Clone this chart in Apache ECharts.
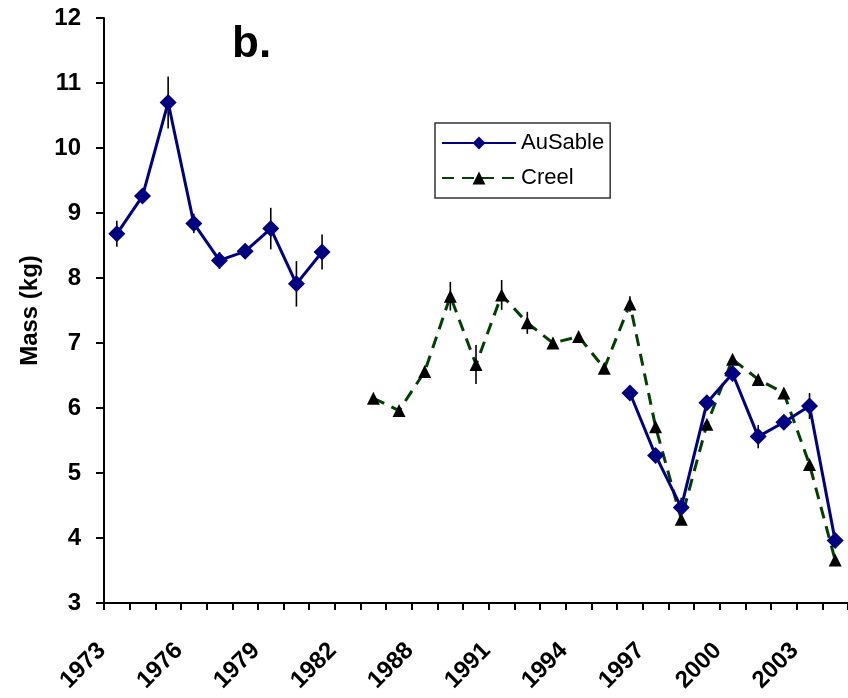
<!DOCTYPE html>
<html>
<head>
<meta charset="utf-8">
<script src="https://cdn.jsdelivr.net/npm/echarts@6/dist/echarts.min.js"></script>
<style>
html,body{margin:0;padding:0;background:#fff;}
#chart{width:848px;height:698px;}
</style>
</head>
<body>
<div id="chart"></div>
<script>
// Categories (years on the x axis)
var years = ['1973','1974','1975','1976','1977','1978','1979','1980','1981','1982',
             '1986','1987','1988','1989','1990','1991','1992','1993','1994','1995',
             '1996','1997','1998','1999','2000','2001','2002','2003','2004'];

// AuSable series (two runs of years)
var ausableYears = ['1973','1974','1975','1976','1977','1978','1979','1980','1981',
                    '1996','1997','1998','1999','2000','2001','2002','2003','2004'];
var ausableMass  = [8.68, 9.26, 10.70, 8.84, 8.27, 8.41, 8.76, 7.91, 8.40,
                    6.23, 5.27, 4.47, 6.08, 6.53, 5.56, 5.78, 6.03, 3.96];
var ausableErr   = [0.20, 0.10, 0.40, 0.15, 0.13, 0.10, 0.32, 0.35, 0.27,
                    0.10, 0.10, 0.15, 0.10, 0.10, 0.18, 0.10, 0.20, 0.10];

// Creel series
var creelYears = ['1986','1987','1988','1989','1990','1991','1992','1993','1994','1995',
                  '1996','1997','1998','1999','2000','2001','2002','2003','2004'];
var creelMass  = [6.15, 5.96, 6.56, 7.72, 6.67, 7.74, 7.31, 7.00, 7.10, 6.61,
                  7.60, 5.71, 4.29, 5.75, 6.75, 6.44, 6.23, 5.13, 3.66];
var creelErr   = [0.05, 0.05, 0.08, 0.22, 0.30, 0.23, 0.17, 0.08, 0.05, 0.05,
                  0.12, 0.05, 0.05, 0.05, 0.05, 0.05, 0.05, 0.05, 0.05];

// Y axis ticks
var yMin = 3, yMax = 12, yStep = 1;

function fullSeries(ys, vals) {
  var out = years.map(function(){ return null; });
  ys.forEach(function(y, i){ out[years.indexOf(y)] = vals[i]; });
  return out;
}
function errData(ys, vals, errs) {
  return ys.map(function(y, i){ return [years.indexOf(y), vals[i] - errs[i], vals[i] + errs[i]]; });
}
function renderErr(params, api) {
  var x = api.value(0);
  var lo = api.coord([x, api.value(1)]);
  var hi = api.coord([x, api.value(2)]);
  return {
    type: 'line',
    shape: {x1: lo[0], y1: lo[1], x2: hi[0], y2: hi[1]},
    style: {stroke: '#000', lineWidth: 1.6}
  };
}

var FONT = 'Liberation Sans, Arial, sans-serif';
var chart = echarts.init(document.getElementById('chart'), null, {renderer: 'canvas'});
chart.setOption({
  animation: false,
  backgroundColor: '#ffffff',
  title: {
    text: 'b.', left: 227, top: 18,
    textStyle: {fontFamily: FONT, fontSize: 44, fontWeight: 'bold', color: '#000'}
  },
  legend: {
    orient: 'vertical', left: 435, top: 123,
    data: ['AuSable', 'Creel'],
    borderColor: '#333', borderWidth: 1.5,
    padding: [9, 6, 9, 6], itemGap: 13,
    itemWidth: 74, itemHeight: 16,
    textStyle: {fontFamily: FONT, fontSize: 22, color: '#000'}
  },
  grid: {left: 104, top: 18, width: 745, height: 585, containLabel: false},
  xAxis: {
    type: 'category', data: years, boundaryGap: true,
    axisLine: {lineStyle: {color: '#000', width: 2}},
    axisTick: {show: true, interval: 0, length: 7, lineStyle: {color: '#000', width: 2}},
    axisLabel: {
      interval: 2, rotate: 45, margin: 29, padding: [0, 21, 0, 0],
      fontFamily: FONT, fontSize: 24, fontWeight: 'bold', color: '#000'
    },
    splitLine: {show: false}
  },
  yAxis: {
    type: 'value', min: yMin, max: yMax, interval: yStep,
    name: 'Mass (kg)', nameLocation: 'middle', nameGap: 62, nameRotate: 90,
    nameTextStyle: {fontFamily: FONT, fontSize: 24, fontWeight: 'bold', color: '#000'},
    axisLine: {show: true, lineStyle: {color: '#000', width: 2}},
    axisTick: {show: true, length: 8, lineStyle: {color: '#000', width: 2}},
    axisLabel: {margin: 23, fontFamily: FONT, fontSize: 24, fontWeight: 'bold', color: '#000'},
    splitLine: {show: false}
  },
  series: [
    {
      name: 'AuSable-err', type: 'custom', renderItem: renderErr,
      data: errData(ausableYears, ausableMass, ausableErr), z: 1, silent: true
    },
    {
      name: 'Creel-err', type: 'custom', renderItem: renderErr,
      data: errData(creelYears, creelMass, creelErr), z: 1, silent: true
    },
    {
      name: 'Creel', type: 'line', data: fullSeries(creelYears, creelMass),
      connectNulls: false,
      symbol: 'triangle', symbolSize: 13, showAllSymbol: true,
      lineStyle: {color: '#004000', width: 3, type: [12, 8]},
      itemStyle: {color: '#000'},
      z: 2
    },
    {
      name: 'AuSable', type: 'line', data: fullSeries(ausableYears, ausableMass),
      connectNulls: false,
      symbol: 'diamond', symbolSize: 17, showAllSymbol: true,
      lineStyle: {color: '#000080', width: 3},
      itemStyle: {color: '#000080'},
      z: 3
    }
  ]
});
</script>
</body>
</html>
